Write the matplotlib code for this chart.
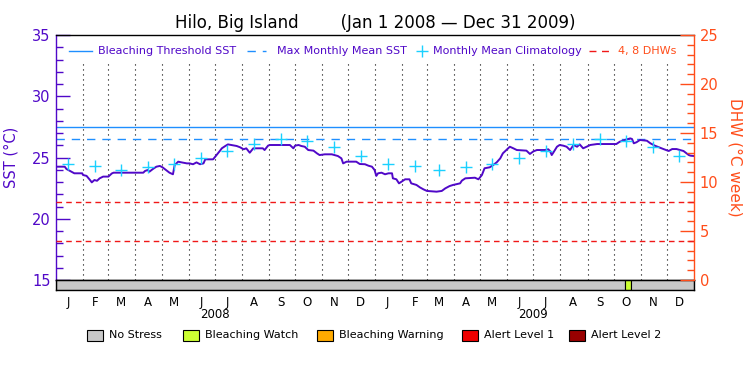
import numpy as np
import pandas as pd
import matplotlib
matplotlib.use('Agg')
import matplotlib.pyplot as plt
from matplotlib.patches import Rectangle

START = pd.Timestamp('2008-01-01')
END = pd.Timestamp('2010-01-01')

# SST (deg C), x = days since Jan 1 2008
sst_day = [0, 10, 12, 16, 21, 30, 31, 35, 39, 41, 44, 47, 50, 54, 60, 64, 66, 100,
           102, 105, 107, 111, 115, 119, 122, 126, 130, 134, 136, 138, 140, 144, 150,
           153, 157, 161, 165, 169, 171, 180, 184, 188, 190, 194, 197, 201, 207, 211,
           215, 218, 222, 226, 237, 239, 243, 245, 268, 272, 274, 278, 281, 285, 289,
           295, 299, 302, 308, 316, 323, 327, 329, 333, 344, 348, 354, 358, 362, 365,
           367, 369, 373, 377, 381, 385, 386, 390, 393, 396, 400, 405, 407, 413, 417,
           421, 425, 436, 442, 446, 451, 455, 463, 465, 469, 480, 484, 488, 491, 497,
           501, 505, 509, 512, 516, 520, 524, 528, 539, 543, 547, 551, 560, 564, 566,
           568, 570, 574, 577, 581, 585, 589, 593, 597, 600, 604, 608, 612, 620, 642,
           646, 654, 658, 660, 662, 665, 669, 677, 681, 686, 692, 696, 702, 706, 711,
           719, 725, 727, 731]
sst_val = [24.25, 24.25, 24.06, 23.9, 23.71, 23.71, 23.57, 23.5, 23.16, 22.97, 23.16,
           23.1, 23.3, 23.44, 23.44, 23.7, 23.76, 23.76, 23.9, 23.98, 23.84, 24.06,
           24.25, 24.31, 24.2, 23.98, 23.76, 23.63, 24.4, 24.52, 24.66, 24.6, 24.52,
           24.52, 24.45, 24.6, 24.45, 24.52, 24.85, 24.85, 25.2, 25.56, 25.75, 25.94,
           26.07, 26.02, 25.94, 25.83, 25.67, 25.75, 25.39, 25.75, 25.75, 25.61, 25.97,
           26.02, 26.02, 25.75, 25.97, 26.02, 25.94, 25.88, 25.61, 25.56, 25.34, 25.2,
           25.26, 25.26, 25.12, 24.93, 24.52, 24.66, 24.66, 24.47, 24.45, 24.33, 24.25,
           23.98, 23.5, 23.71, 23.76, 23.63, 23.71, 23.71, 23.3, 23.22, 22.89, 23.03,
           23.22, 23.22, 22.89, 22.76, 22.56, 22.4, 22.27, 22.21, 22.27, 22.48, 22.67,
           22.76, 22.89, 23.11, 23.3, 23.35, 23.22, 23.57, 24.12, 24.2, 24.39, 24.61,
           24.93, 25.34, 25.61, 25.88, 25.75, 25.61, 25.56, 25.29, 25.5, 25.61, 25.61,
           25.67, 25.53, 25.2, 25.42, 25.88, 26.02, 25.97, 25.88, 25.61, 26.02, 25.88,
           26.07, 25.75, 25.88, 26.02, 26.1, 26.1, 26.29, 26.48, 26.56, 26.51, 26.16,
           26.24, 26.43, 26.37, 26.16, 25.97, 25.8, 25.69, 25.53, 25.69, 25.69, 25.53,
           25.2, 25.15, 25.12]

# monthly mean climatology, Jan..Dec
clim_val = [24.5, 24.3, 24.0, 24.2, 24.45, 24.95, 25.55, 26.1, 26.5, 26.35, 25.85, 25.1]
MMM = 26.5
THRESHOLD = 27.5
DHW_LEVELS = [4, 8]

# alert status bar along the bottom
status_start = ['2008-01-01', '2009-10-14', '2009-10-21']
status_end = ['2009-10-14', '2009-10-21', '2010-01-01']
status_level = [0, 1, 0]
status_names = ['No Stress', 'Bleaching Watch', 'Bleaching Warning', 'Alert Level 1', 'Alert Level 2']
status_colors = ['#c8c8c8', '#ccff33', '#ffaa00', '#ee0000', '#990000']

month_letters = ['J', 'F', 'M', 'A', 'M', 'J', 'J', 'A', 'S', 'O', 'N', 'D']
years = [2008, 2009]

PURPLE = '#5008c8'
ORANGE = '#ff4d1a'
BLUE = '#1f8fff'
CYAN = '#1ad1ff'
RED = '#f01818'

W, H = 750, 375
fig = plt.figure(figsize=(7.5, 3.75), dpi=100)
ax = fig.add_axes([56 / W, 95 / H, 638 / W, 245 / H])
bar = fig.add_axes([56 / W, 85 / H, 638 / W, 10 / H])
ax2 = ax.twinx()

sst_dates = START + pd.to_timedelta(sst_day, unit='D')
clim_dates = [pd.Timestamp(y, m, 15) for y in years for m in range(1, 13)]

# --- main SST panel ---
ax.set_xlim(START, END)
ax.set_ylim(15, 35)
for d in pd.date_range('2008-02-01', '2009-12-01', freq='MS'):
    ax.axvline(d, ymax=0.886, color='k', lw=0.8, ls=(0, (1, 3.5)))
ax.axhline(THRESHOLD, color=BLUE, lw=1.0)
ax.axhline(MMM, color=BLUE, lw=1.0, ls=(0, (6, 5)))
ax.plot(sst_dates, sst_val, color=PURPLE, lw=1.4)
ax.plot(clim_dates, clim_val * len(years), '+', color=CYAN, ms=9, mew=1.0)

ax.set_xticks([])
ax.set_yticks(range(15, 36, 5))
ax.set_yticks(range(15, 36), minor=True)
ax.tick_params(axis='y', which='major', direction='in', length=10, width=1,
               color=PURPLE, labelcolor=PURPLE, labelsize=10.5, pad=4)
ax.tick_params(axis='y', which='minor', direction='in', length=5, width=1, color=PURPLE)
ax.set_ylabel('SST (°C)', color=PURPLE, fontsize=10.5)
ax.yaxis.set_label_coords(-38 / 638, 0.5)
for s in ax.spines.values():
    s.set_linewidth(1)
ax.spines['left'].set_color(PURPLE)
ax.spines['right'].set_visible(False)

# --- DHW axis ---
ax2.set_ylim(0, 25)
for lvl in DHW_LEVELS:
    ax2.axhline(lvl, color=RED, lw=1.0, ls=(0, (4, 3)))
ax2.set_yticks(range(0, 26, 5))
ax2.set_yticks(range(0, 26), minor=True)
ax2.tick_params(axis='y', which='major', direction='in', length=10, width=1,
                color=ORANGE, labelcolor=ORANGE, labelsize=10.5, pad=4)
ax2.tick_params(axis='y', which='minor', direction='in', length=5, width=1, color=ORANGE)
ax2.set_ylabel('DHW (°C week)', color=ORANGE, fontsize=11, rotation=270, va='center')
ax2.yaxis.set_label_coords(1 + 41 / 638, 0.5)
for s in ax2.spines.values():
    s.set_visible(False)
ax2.spines['right'].set_visible(True)
ax2.spines['right'].set_color(ORANGE)
ax2.spines['right'].set_linewidth(1)

ax.set_title('Hilo, Big Island        (Jan 1 2008 — Dec 31 2009)', fontsize=12, pad=5)

# top legend (drawn by hand, one row)
ly = (280 - 51) / 245
def axx(px):
    return (px - 56) / 638
ax.plot([axx(69), axx(92)], [ly, ly], color=BLUE, lw=1.0, transform=ax.transAxes, clip_on=False)
ax.text(axx(98), ly, 'Bleaching Threshold SST', color=PURPLE, fontsize=8, va='center', transform=ax.transAxes)
ax.plot([axx(247), axx(266)], [ly, ly], color=BLUE, lw=1.0, ls=(0, (6, 5)), transform=ax.transAxes, clip_on=False)
ax.text(axx(277), ly, 'Max Monthly Mean SST', color=PURPLE, fontsize=8, va='center', transform=ax.transAxes)
ax.plot([axx(421.7)], [ly], '+', color=CYAN, ms=9, mew=1.0, transform=ax.transAxes, clip_on=False)
ax.text(axx(433), ly, 'Monthly Mean Climatology', color=PURPLE, fontsize=8, va='center', transform=ax.transAxes)
ax.plot([axx(589), axx(613)], [ly, ly], color=RED, lw=1.0, ls=(0, (5, 4)), transform=ax.transAxes, clip_on=False)
ax.text(axx(618), ly, '4, 8 DHWs', color=ORANGE, fontsize=8, va='center', transform=ax.transAxes)

# --- status bar ---
bar.set_xlim(START, END)
bar.set_ylim(0, 1)
for s0, s1, lv in zip(status_start, status_end, status_level):
    bar.axvspan(pd.Timestamp(s0), pd.Timestamp(s1), facecolor=status_colors[lv],
                edgecolor='k', lw=0.8)
bar.set_yticks([])
bar.set_xticks(clim_dates)
bar.set_xticklabels(month_letters * len(years), fontsize=8.5)
bar.tick_params(axis='x', length=0, pad=4)
for s in bar.spines.values():
    s.set_linewidth(1)
for y in years:
    bar.text(pd.Timestamp(y, 7, 1), -2.5, str(y), fontsize=8.5, ha='center', va='center',
             transform=bar.get_xaxis_transform())

# bottom legend
box_x = [87, 183, 317, 462, 569]
for bx, name, col in zip(box_x, status_names, status_colors):
    fig.add_artist(Rectangle((bx / W, (H - 341) / H), 16 / W, 11 / H, facecolor=col,
                             edgecolor='k', lw=0.8, transform=fig.transFigure))
    fig.text((bx + 22) / W, (H - 335.5) / H, name, fontsize=8, va='center')

fig.savefig('out.png', dpi=100)
